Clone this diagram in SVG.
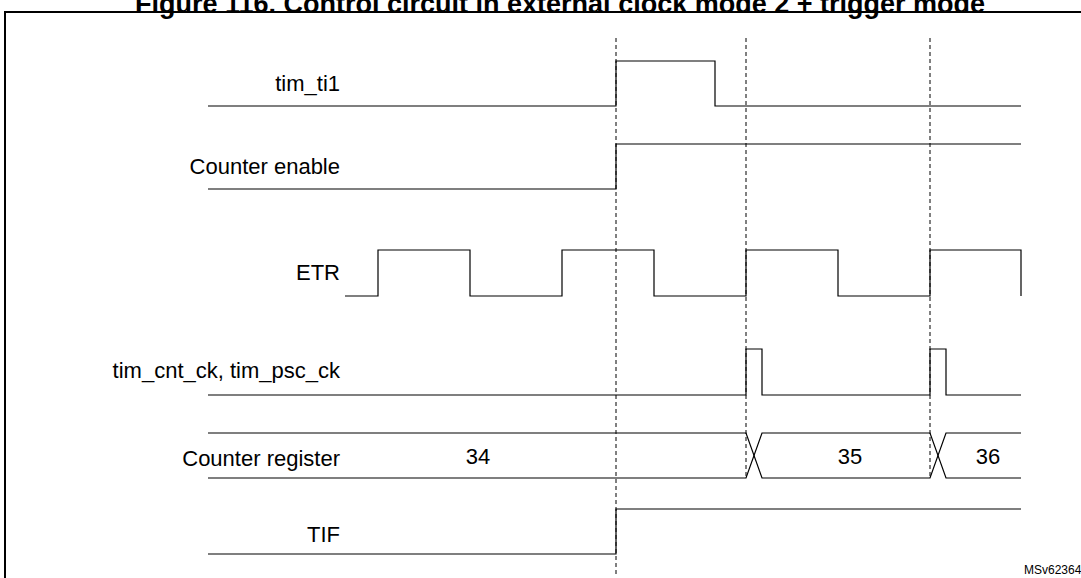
<svg xmlns="http://www.w3.org/2000/svg" width="1081" height="578" viewBox="0 0 1081 578">
<style>
.t{font-family:"Liberation Sans",Arial,sans-serif;font-size:22px;fill:#000}
.l{fill:none;stroke:#000;stroke-width:1.2}
.d{fill:none;stroke:#000;stroke-width:1;stroke-dasharray:4,3}
</style>
<rect width="1081" height="578" fill="#fff"/>
<text x="560" y="13" text-anchor="middle" style="font-family:'Liberation Sans',Arial,sans-serif;font-size:27px;font-weight:bold">Figure 116. Control circuit in external clock mode 2 + trigger mode</text>
<rect x="5" y="12" width="1090" height="580" fill="none" stroke="#000" stroke-width="2"/>
<g id="labels">
<text class="t" x="340" y="91" text-anchor="end">tim_ti1</text>
<text class="t" x="340" y="174" text-anchor="end">Counter enable</text>
<text class="t" x="340" y="280" text-anchor="end">ETR</text>
<text class="t" x="340" y="378" text-anchor="end">tim_cnt_ck, tim_psc_ck</text>
<text class="t" x="340" y="466" text-anchor="end">Counter register</text>
<text class="t" x="340" y="542" text-anchor="end">TIF</text>
</g>
<g id="connectors">
<line class="d" x1="616" y1="38" x2="616" y2="574"/>
<line class="d" x1="746" y1="38" x2="746" y2="478"/>
<line class="d" x1="930" y1="38" x2="930" y2="478"/>
<polyline class="l" points="208,106 616,106 616,61 715,61 715,106 1021,106"/>
<polyline class="l" points="208,189 616,189 616,144 1021,144"/>
<polyline class="l" points="345,296 378,296 378,250 470,250 470,296 562,296 562,250 654,250 654,296 746,296 746,250 838,250 838,296 930,296 930,250 1021,250 1021,296"/>
<polyline class="l" points="208,395 746,395 746,349 762,349 762,395 930,395 930,349 946,349 946,395 1021,395"/>
<polyline class="l" points="208,433 746,433 762,478 930,478 946,433 1021,433"/>
<polyline class="l" points="208,478 746,478 762,433 930,433 946,478 1021,478"/>
<polyline class="l" points="208,554 616,554 616,509 1021,509"/>
</g>
<g id="values">
<text class="t" x="478" y="464" text-anchor="middle">34</text>
<text class="t" x="850" y="464" text-anchor="middle">35</text>
<text class="t" x="988" y="464" text-anchor="middle">36</text>
</g>
<text x="1024" y="574" style="font-family:'Liberation Sans',Arial,sans-serif;font-size:12px">MSv62364V1</text>
</svg>
